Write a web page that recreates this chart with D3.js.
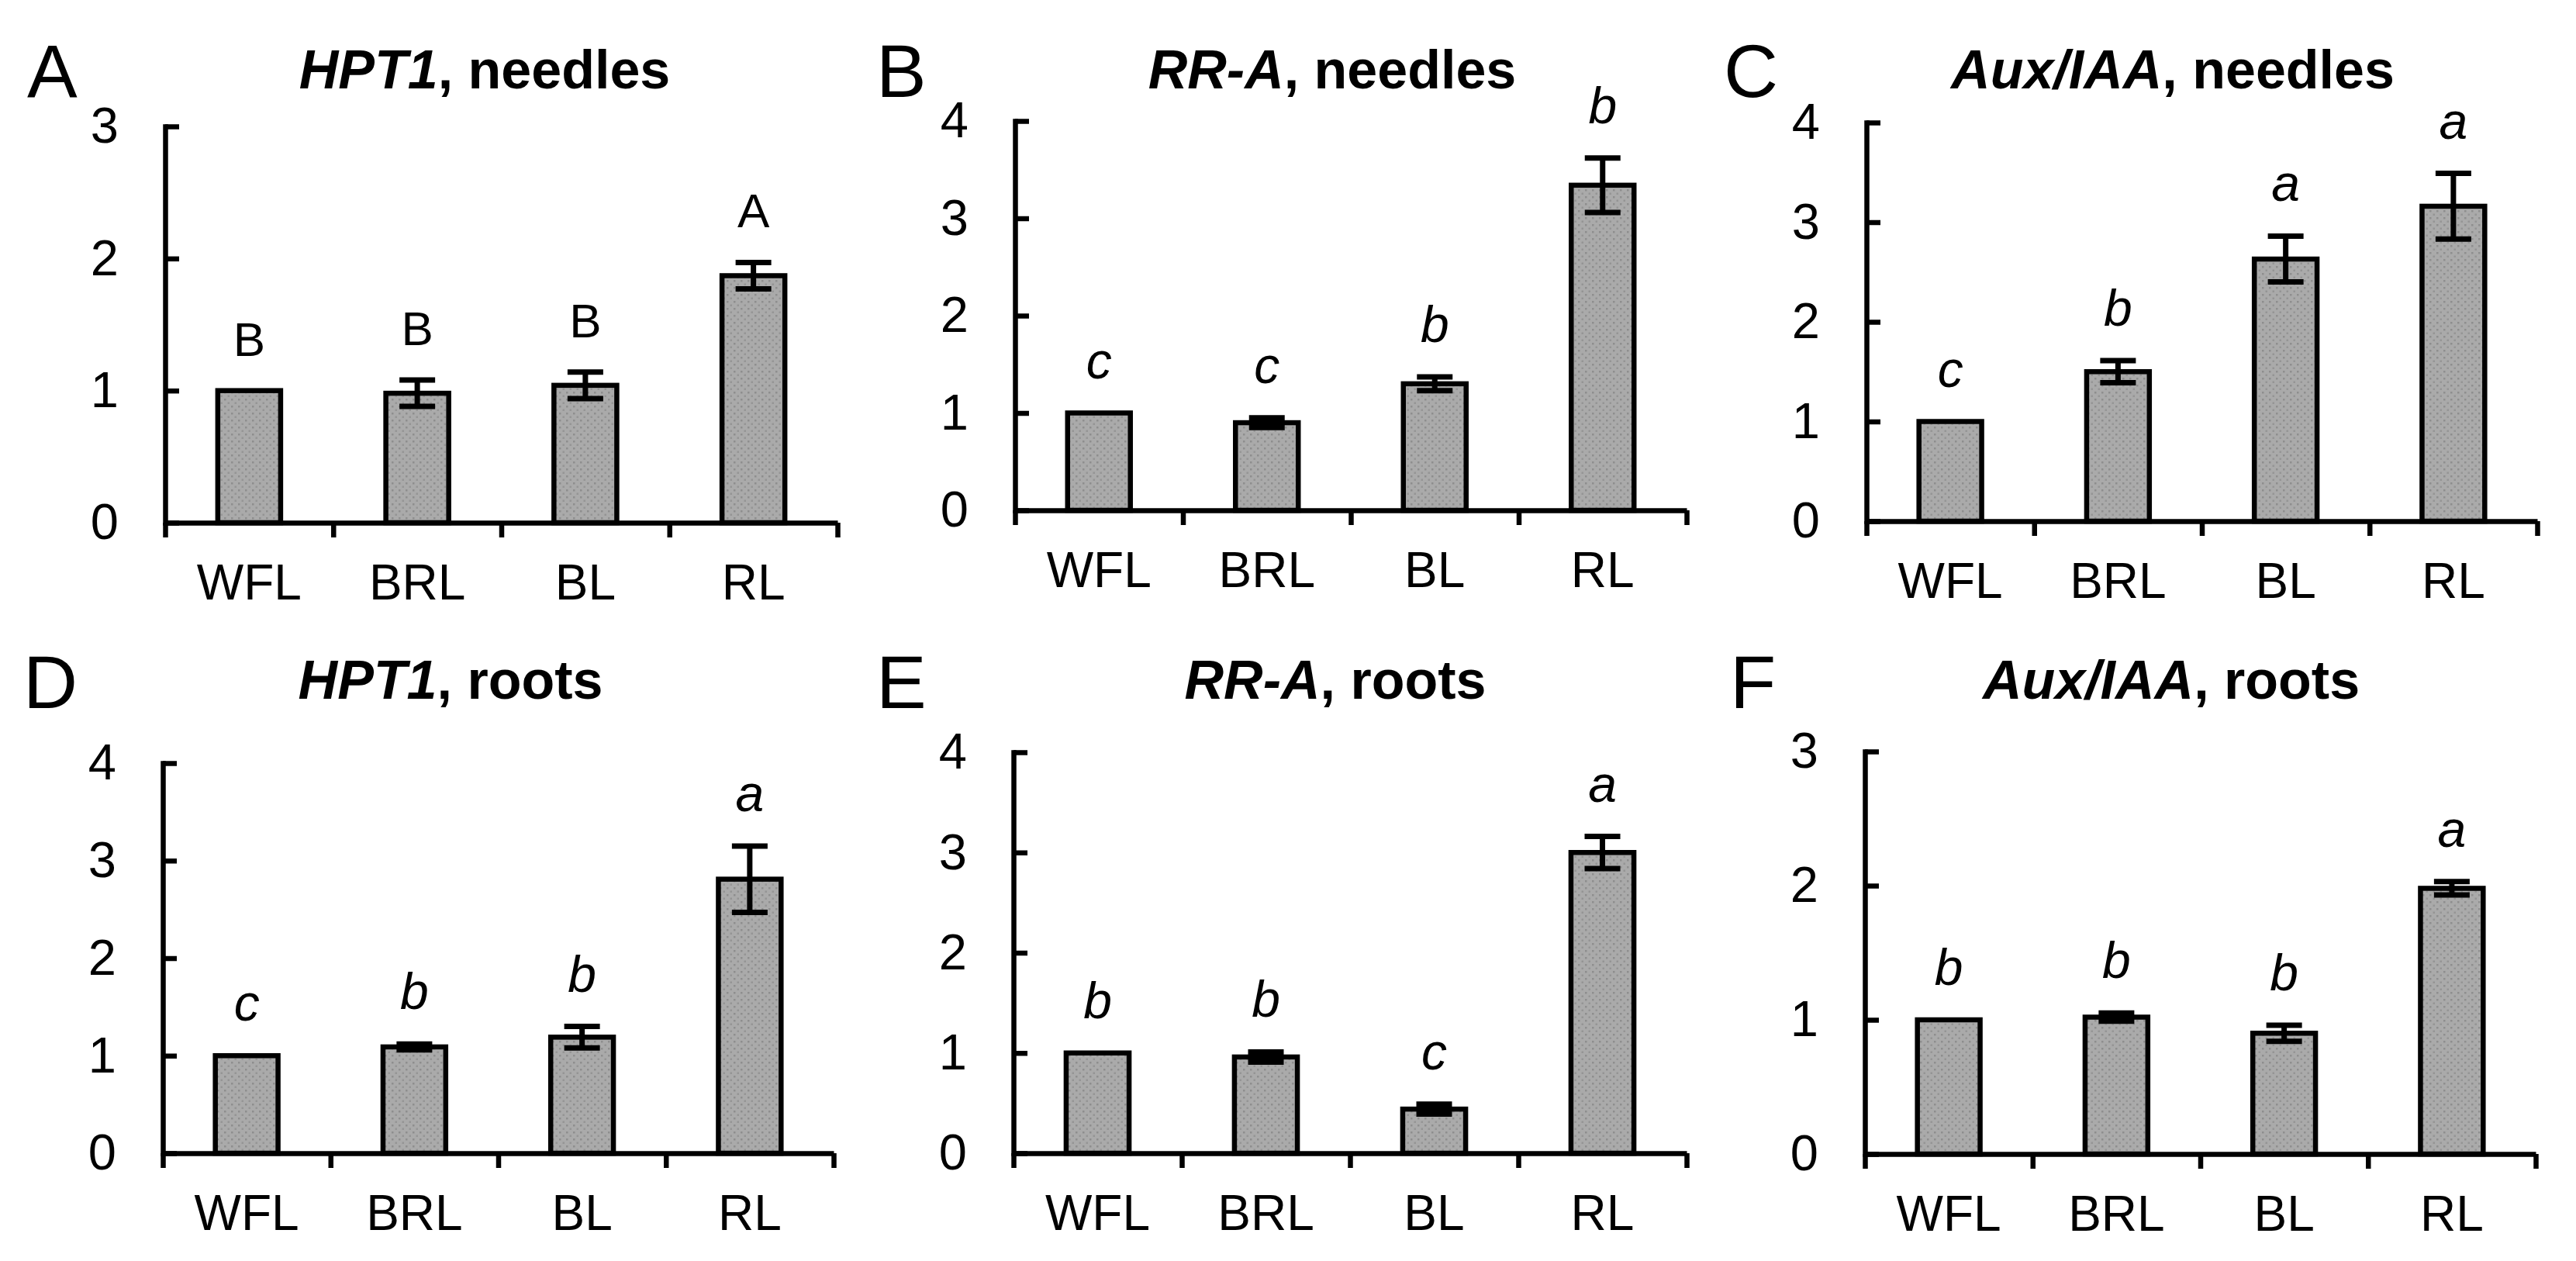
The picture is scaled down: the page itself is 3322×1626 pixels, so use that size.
<!DOCTYPE html>
<html>
<head>
<meta charset="utf-8">
<script src="https://cdn.jsdelivr.net/npm/d3@7"></script>
<style>
  html, body { margin: 0; padding: 0; background: #fff; }
  svg { display: block; }
  text { font-family: "Liberation Sans", Arial, sans-serif; fill: #000; }
</style>
</head>
<body>
<svg id="chart" width="3322" height="1626"></svg>
<script>
// ---------------- DATA ----------------
const categories = ["WFL", "BRL", "BL", "RL"];

const hpt1NeedlesMean = [1.00, 0.98, 1.04, 1.87];
const hpt1NeedlesSE   = [0, 0.10, 0.10, 0.10];
const hpt1NeedlesSig  = ["B", "B", "B", "A"];

const rraNeedlesMean = [1.00, 0.90, 1.30, 3.34];
const rraNeedlesSE   = [0, 0.05, 0.07, 0.28];
const rraNeedlesSig  = ["c", "c", "b", "b"];

const auxNeedlesMean = [1.00, 1.50, 2.63, 3.16];
const auxNeedlesSE   = [0, 0.11, 0.23, 0.33];
const auxNeedlesSig  = ["c", "b", "a", "a"];

const hpt1RootsMean = [1.00, 1.09, 1.19, 2.81];
const hpt1RootsSE   = [0, 0.03, 0.11, 0.34];
const hpt1RootsSig  = ["c", "b", "b", "a"];

const rraRootsMean = [1.00, 0.96, 0.44, 3.00];
const rraRootsSE   = [0, 0.05, 0.05, 0.16];
const rraRootsSig  = ["b", "b", "c", "a"];

const auxRootsMean = [1.00, 1.02, 0.90, 1.98];
const auxRootsSE   = [0, 0.03, 0.06, 0.05];
const auxRootsSig  = ["b", "b", "b", "a"];

const panelLetters = ["A", "B", "C", "D", "E", "F"];
const genes   = ["HPT1", "RR-A", "Aux/IAA", "HPT1", "RR-A", "Aux/IAA"];
const tissues = ["needles", "needles", "needles", "roots", "roots", "roots"];
const yMaxes  = [3, 4, 4, 4, 4, 3];
const yTicks3 = [0, 1, 2, 3];
const yTicks4 = [0, 1, 2, 3, 4];

// ---------------- LAYOUT ----------------
const layout = [
  {x0: 213,  x1: 1080, y0: 674,  yTop: 163, titleX: 625,  titleY: 114, letterX: 35,   letterY: 125},
  {x0: 1309, x1: 2175, y0: 658,  yTop: 156, titleX: 1718, titleY: 114, letterX: 1130, letterY: 125},
  {x0: 2407, x1: 3272, y0: 672,  yTop: 158, titleX: 2802, titleY: 114, letterX: 2223, letterY: 125},
  {x0: 210,  x1: 1075, y0: 1487, yTop: 984, titleX: 581,  titleY: 901, letterX: 30,   letterY: 913},
  {x0: 1307, x1: 2175, y0: 1487, yTop: 970, titleX: 1722, titleY: 901, letterX: 1130, letterY: 913},
  {x0: 2405, x1: 3270, y0: 1488, yTop: 969, titleX: 2800, titleY: 901, letterX: 2231, letterY: 913}
];

const means = [hpt1NeedlesMean, rraNeedlesMean, auxNeedlesMean, hpt1RootsMean, rraRootsMean, auxRootsMean];
const ses   = [hpt1NeedlesSE, rraNeedlesSE, auxNeedlesSE, hpt1RootsSE, rraRootsSE, auxRootsSE];
const sigs  = [hpt1NeedlesSig, rraNeedlesSig, auxNeedlesSig, hpt1RootsSig, rraRootsSig, auxRootsSig];

const STROKE = 6.5;
const svg = d3.select("#chart");
svg.append("rect").attr("width", 3322).attr("height", 1626).attr("fill", "#fff");

// stippled gray fill like the original
const defs = svg.append("defs");
const pat = defs.append("pattern").attr("id", "stipple")
  .attr("patternUnits", "userSpaceOnUse").attr("width", 9).attr("height", 9);
pat.append("rect").attr("width", 9).attr("height", 9).attr("fill", "#aaaaaa");
pat.append("rect").attr("x", 1).attr("y", 1).attr("width", 2.5).attr("height", 2.5).attr("fill", "#8e8e8e");
pat.append("rect").attr("x", 5.5).attr("y", 5.5).attr("width", 2.5).attr("height", 2.5).attr("fill", "#959595");

layout.forEach((L, i) => {
  const g = svg.append("g");
  const x = d3.scaleBand().domain(categories).range([L.x0, L.x1])
    .paddingInner(0.626).paddingOuter(0.313);
  const xb = d3.scaleLinear().domain([0, categories.length]).range([L.x0, L.x1]);
  const y = d3.scaleLinear().domain([0, yMaxes[i]]).range([L.y0, L.yTop]);
  const rows = categories.map((c, k) => ({cat: c, m: means[i][k], se: ses[i][k], sig: sigs[i][k]}));

  // bars
  g.selectAll("rect.bar").data(rows).enter().append("rect")
    .attr("class", "bar")
    .attr("x", d => x(d.cat))
    .attr("width", x.bandwidth())
    .attr("y", d => y(d.m))
    .attr("height", d => y(0) - y(d.m))
    .attr("fill", "url(#stipple)")
    .attr("stroke", "#000")
    .attr("stroke-width", STROKE);

  // error bars
  const eb = rows.filter(d => d.se > 0);
  const cx = d => x(d.cat) + x.bandwidth() / 2;
  const capHalf = 23;
  g.selectAll("line.ev").data(eb).enter().append("line")
    .attr("x1", cx).attr("x2", cx)
    .attr("y1", d => y(d.m - d.se)).attr("y2", d => y(d.m + d.se))
    .attr("stroke", "#000").attr("stroke-width", 7);
  ["hi", "lo"].forEach(w => {
    g.selectAll("line.cap" + w).data(eb).enter().append("line")
      .attr("x1", d => cx(d) - capHalf).attr("x2", d => cx(d) + capHalf)
      .attr("y1", d => y(w === "hi" ? d.m + d.se : d.m - d.se))
      .attr("y2", d => y(w === "hi" ? d.m + d.se : d.m - d.se))
      .attr("stroke", "#000").attr("stroke-width", 7);
  });

  // significance letters
  g.selectAll("text.sig").data(rows).enter().append("text")
    .attr("x", cx)
    .attr("y", d => y(d.m + d.se) - 45)
    .attr("text-anchor", "middle")
    .attr("font-size", i === 0 ? 62 : 66)
    .attr("font-style", i === 0 ? "normal" : "italic")
    .text(d => d.sig);

  // y axis (ticks inside)
  const yAxis = d3.axisLeft(y)
    .tickValues(yMaxes[i] === 3 ? yTicks3 : yTicks4)
    .tickFormat(d3.format("d"))
    .tickSizeInner(-18).tickSizeOuter(0).tickPadding(60);
  const ya = g.append("g").attr("transform", `translate(${L.x0},0)`).call(yAxis);
  ya.select(".domain").attr("stroke-width", STROKE).attr("stroke", "#000").attr("stroke-linecap", "square");
  ya.selectAll(".tick line").attr("stroke-width", STROKE).attr("stroke", "#000");
  ya.selectAll(".tick text").attr("font-size", 65).attr("font-family", "Liberation Sans, Arial, sans-serif").attr("fill", "#000");

  // x axis boundary ticks
  const xAxisLine = d3.axisBottom(xb).tickValues(d3.range(categories.length + 1))
    .tickFormat("").tickSizeInner(19).tickSizeOuter(0);
  const xa = g.append("g").attr("transform", `translate(0,${L.y0})`).call(xAxisLine);
  xa.select(".domain").attr("stroke-width", STROKE).attr("stroke", "#000");
  xa.selectAll(".tick line").attr("stroke-width", STROKE).attr("stroke", "#000");

  // x axis category labels
  const xLab = d3.axisBottom(x).tickSize(0).tickPadding(54);
  const xl = g.append("g").attr("transform", `translate(0,${L.y0})`).call(xLab);
  xl.select(".domain").remove();
  xl.selectAll(".tick text").attr("font-size", 64).attr("font-family", "Liberation Sans, Arial, sans-serif").attr("fill", "#000");

  // title
  const t = g.append("text")
    .attr("x", L.titleX).attr("y", L.titleY)
    .attr("text-anchor", "middle")
    .attr("font-size", 70).attr("font-weight", "bold");
  t.append("tspan").attr("font-style", "italic").text(genes[i]);
  t.append("tspan").text(", " + tissues[i]);

  // panel letter
  g.append("text")
    .attr("x", L.letterX).attr("y", L.letterY)
    .attr("font-size", 97)
    .text(panelLetters[i]);
});
</script>
</body>
</html>
